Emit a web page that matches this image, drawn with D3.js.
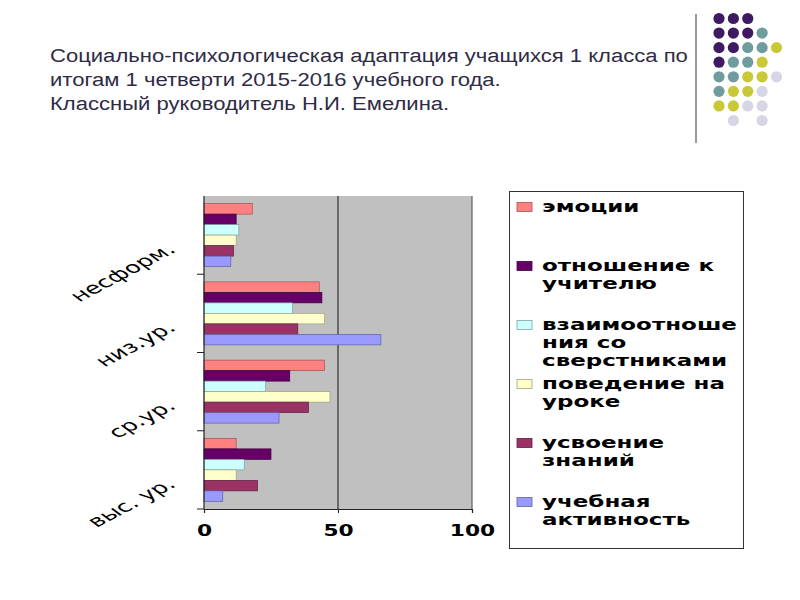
<!DOCTYPE html>
<html>
<head>
<meta charset="utf-8">
<script src="https://cdn.jsdelivr.net/npm/d3@7"></script>
<style>
  html, body { margin: 0; padding: 0; background: #ffffff; }
  svg { display: block; }
</style>
</head>
<body>
<svg id="chart" width="800" height="600"></svg>
<script>
// ---------- DATA ----------
const titleLines = [
  "Социально-психологическая адаптация учащихся 1 класса по",
  "итогам 1 четверти 2015-2016 учебного года.",
  "Классный руководитель Н.И. Емелина."
];
const categories = ["несформ.", "низ.ур.", "ср.ур.", "выс. ур."];   // top to bottom
const seriesNames = [
  "эмоции",
  "отношение к учителю",
  "взаимоотношения со сверстниками",
  "поведение на уроке",
  "усвоение знаний",
  "учебная активность"
];
const legendLines = [
  ["эмоции"],
  ["отношение к", "учителю"],
  ["взаимоотноше", "ния со", "сверстниками"],
  ["поведение на", "уроке"],
  ["усвоение", "знаний"],
  ["учебная", "активность"]
];
const seriesColors = ["#FF8080", "#660066", "#CCFFFF", "#FFFFCC", "#993366", "#9999FF"];
// values per series, in category order (несформ., низ.ур., ср.ур., выс. ур.)
const emotions   = [18, 43, 45, 12];
const teacher    = [12, 44, 32, 25];
const peers      = [13, 33, 23, 15];
const behaviour  = [12, 45, 47, 12];
const knowledge  = [11, 35, 39, 20];
const activity   = [10, 66, 28, 7];
const seriesValues = [emotions, teacher, peers, behaviour, knowledge, activity];
const xTicks = [0, 50, 100];

// decorative dot grid (rows of colour keys, "" = empty)
const dotRows = [
  ["p","p","p","",""],
  ["p","p","p","t",""],
  ["p","p","t","t","y"],
  ["p","t","t","y",""],
  ["t","t","y","y","l"],
  ["t","y","y","l",""],
  ["y","y","l","l",""],
  ["","l","","l",""]
];
const dotColors = { p: "#3f1a63", t: "#6f9c9e", y: "#c9c937", l: "#d6d6e6" };

// ---------- DRAW ----------
const svg = d3.select("#chart");

// decoration
svg.append("line")
  .attr("x1", 696).attr("x2", 696).attr("y1", 14).attr("y2", 143)
  .attr("stroke", "#9a9a9a").attr("stroke-width", 2);
const dotX = d3.scaleLinear().domain([0, 4]).range([719, 776.5]);
const dotY = d3.scaleLinear().domain([0, 7]).range([18.5, 120.5]);
dotRows.forEach((row, r) => {
  row.forEach((k, c) => {
    if (!k) return;
    svg.append("circle")
      .attr("cx", dotX(c)).attr("cy", dotY(r)).attr("r", 5.6)
      .attr("fill", dotColors[k]);
  });
});

// title (slightly wide sans, as in the slide)
const titleG = svg.append("g");
const titleTexts = titleG.selectAll("text").data(titleLines).join("text")
  .attr("font-family", "Liberation Sans, Arial, sans-serif")
  .attr("font-size", 19)
  .attr("fill", "#2f2b45")
  .text(d => d);
const tsx = 638 / titleTexts.nodes()[0].getComputedTextLength();
titleTexts.attr("transform", (d, i) => `translate(50,${62 + i * 24}) scale(${tsx},1)`);

// scales
const x = d3.scaleLinear().domain([0, 100]).range([204, 472]);
const plotTop = 196, plotBottom = 509;
const y0 = d3.scaleBand().domain(categories).range([plotTop, plotBottom])
  .paddingInner(0.195).paddingOuter(0.0975);
const y1 = d3.scaleBand().domain(d3.range(seriesNames.length)).range([0, y0.bandwidth()]);

// plot area
svg.append("rect")
  .attr("x", x(0)).attr("y", plotTop)
  .attr("width", x(100) - x(0)).attr("height", plotBottom - plotTop)
  .attr("fill", "#C0C0C0");

// gridlines
svg.append("g").selectAll("line").data(xTicks.filter(v => v > 0)).join("line")
  .attr("x1", d => x(d)).attr("x2", d => x(d))
  .attr("y1", plotTop).attr("y2", plotBottom)
  .attr("stroke", d => d === 50 ? "#303030" : "#606060")
  .attr("stroke-width", 1.2);

// bars
const flat = [];
categories.forEach((cat, ci) => {
  seriesValues.forEach((vals, si) => {
    flat.push({ cat, si, v: vals[ci] });
  });
});
svg.append("g").selectAll("rect").data(flat).join("rect")
  .attr("x", x(0))
  .attr("y", d => y0(d.cat) + y1(d.si))
  .attr("width", d => x(d.v) - x(0))
  .attr("height", y1.bandwidth())
  .attr("fill", d => seriesColors[d.si])
  .attr("stroke", d => d3.color(seriesColors[d.si]).darker(1.3))
  .attr("stroke-width", 0.7);

// y axis line + boundary ticks
svg.append("line")
  .attr("x1", x(0)).attr("x2", x(0)).attr("y1", plotTop).attr("y2", plotBottom)
  .attr("stroke", "#222").attr("stroke-width", 1.2);
svg.append("g").selectAll("line").data(categories.map((c, i) => i + 1)).join("line")
  .attr("x1", x(0) - 7).attr("x2", x(0))
  .attr("y1", i => plotTop + (plotBottom - plotTop) * i / categories.length)
  .attr("y2", i => plotTop + (plotBottom - plotTop) * i / categories.length)
  .attr("stroke", "#222").attr("stroke-width", 1);

// x axis
const xAxis = svg.append("g")
  .attr("transform", `translate(0,${plotBottom})`)
  .call(d3.axisBottom(x).tickValues(xTicks).tickSize(4).tickPadding(12).tickFormat(d3.format("d")));
xAxis.select(".domain").attr("stroke", "#222").attr("stroke-width", 1.2);
xAxis.selectAll(".tick line").attr("stroke", "#222");
xAxis.selectAll(".tick text")
  .attr("font-family", "DejaVu Sans, sans-serif")
  .attr("font-size", 15)
  .attr("font-weight", "bold")
  .attr("fill", "#000")
  .attr("transform", "scale(1.45,1)");

// category labels (rotated, horizontally stretched)
svg.append("g").selectAll("text").data(categories).join("text")
  .attr("transform", d => `translate(177,${y0(d) + y0.bandwidth() / 2 + 16}) scale(1.6,1) rotate(-40)`)
  .attr("text-anchor", "end")
  .attr("font-family", "DejaVu Sans, sans-serif")
  .attr("font-size", 16)
  .attr("fill", "#000")
  .text(d => d);

// legend
const legend = svg.append("g");
legend.append("rect")
  .attr("x", 509.5).attr("y", 191.5).attr("width", 234).attr("height", 357)
  .attr("fill", "#fff").attr("stroke", "#333").attr("stroke-width", 1);
const entryStep = 59, entryTop = 207, lineStep = 18;
const probe = legend.append("text")
  .attr("font-family", "DejaVu Sans, sans-serif").attr("font-size", 15).attr("font-weight", "bold")
  .text("взаимоотноше");
const sx = 195 / probe.node().getComputedTextLength();
probe.remove();
legendLines.forEach((lines, i) => {
  const cy = entryTop + i * entryStep;
  legend.append("rect")
    .attr("x", 517).attr("y", cy - 4.5).attr("width", 15).attr("height", 9)
    .attr("fill", seriesColors[i])
    .attr("stroke", d3.color(seriesColors[i]).darker(1.3)).attr("stroke-width", 0.8);
  lines.forEach((ln, j) => {
    legend.append("text")
      .attr("transform", `translate(542,${cy + j * lineStep}) scale(${sx},1)`)
      .attr("dy", "0.35em")
      .attr("font-family", "DejaVu Sans, sans-serif")
      .attr("font-size", 15)
      .attr("font-weight", "bold")
      .attr("fill", "#000")
      .text(ln);
  });
});
</script>
</body>
</html>
